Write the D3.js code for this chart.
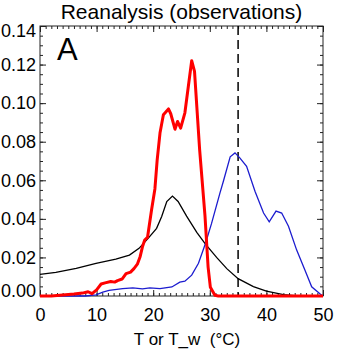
<!DOCTYPE html>
<html>
<head>
<meta charset="utf-8">
<script src="https://d3js.org/d3.v7.min.js"></script>
<style>
body { margin: 0; background: #fff; }
text { font-family: "Liberation Sans", Arial, Helvetica, sans-serif; fill: #000; }
</style>
</head>
<body>
<script type="text/javascript">

/* distributions, temperature in deg C vs probability density */

var redT = [0, 2, 4, 6, 7.5, 8.5, 9.2, 10, 10.8, 11.5, 12.5, 13.2, 13.7, 14.5, 15.2, 16, 16.6, 17.2, 17.7, 18.1, 18.5, 19,
            19.7, 20.3, 20.7, 21.2, 21.8, 22.7, 23.1, 23.85, 24.3, 24.85, 25.6, 26.2, 26.8, 27.3, 27.7, 28.2, 29.15, 29.7,
            30.1, 30.9, 31.5, 40, 50];
var redP = [0, 0, 0.0005, 0.0010, 0.0015, 0.0022, 0.0012, 0.0032, 0.0062, 0.0068, 0.0075, 0.0072, 0.0080, 0.0088, 0.0116,
            0.0124, 0.0142, 0.0165, 0.0205, 0.0255, 0.0290, 0.0305, 0.0445, 0.0555, 0.0705, 0.0845, 0.0940, 0.0970, 0.0945,
            0.0865, 0.0905, 0.0870, 0.0950, 0.1085, 0.1220, 0.1165, 0.0985, 0.0760, 0.0415, 0.0150, 0.0045, 0.0004, 0, 0, 0];

var blackT = [0, 2.8, 6.4, 9.9, 13.4, 15.8, 17.5, 19.1, 20.6, 21.5, 22.4, 23.4, 24.4, 25.9, 27.7, 29.2, 31.2, 33, 35, 37.7,
              40, 43, 45, 50];
var blackP = [0.0112, 0.0122, 0.0143, 0.0169, 0.0191, 0.0212, 0.0247, 0.0299, 0.0351, 0.0412, 0.0490, 0.0518, 0.0490,
              0.0414, 0.0330, 0.0270, 0.0200, 0.0142, 0.0090, 0.0049, 0.0025, 0.0007, 0.0002, 0];

var blueT = [0, 8, 9.9, 11.1, 12.2, 14.6, 16.4, 18.1, 19.4, 21.2, 23.3, 24.7, 25.6, 26.8, 28, 29.2, 30.3, 31.8, 32.4, 33.6,
             34.45, 35.3, 36.5, 38, 39.5, 40.5, 41.7, 42.7, 43.9, 45.35, 46.8, 48, 49.5, 50];
var blueP = [0, 0, 0.0006, 0.0020, 0.0029, 0.0038, 0.0042, 0.0037, 0.0042, 0.0038, 0.0047, 0.0072, 0.0077, 0.0108, 0.0170,
             0.0270, 0.0375, 0.0535, 0.0595, 0.0722, 0.0742, 0.0716, 0.0672, 0.0542, 0.0430, 0.0385, 0.0440, 0.0430,
             0.0362, 0.0238, 0.0135, 0.0048, 0.0010, 0];

var thresholdT = 35;

var xTicks = [0, 10, 20, 30, 40, 50];
var yTicks = [0.00, 0.02, 0.04, 0.06, 0.08, 0.10, 0.12, 0.14];

/* layout */
var width = 341, height = 351;
var plotLeft = 40, plotRight = 323, plotTop = 26, plotBottom = 296;

var svg = d3.select("body").append("svg")
  .attr("width", width)
  .attr("height", height);

var x = d3.scaleLinear().domain([0, 50]).range([plotLeft, plotRight]);
var y = d3.scaleLinear().domain([0, 0.14]).range([plotBottom, plotTop]);

/* ticks point inward on all four sides */
function addAxis(axis, tx, ty, labels) {
  var g = svg.append("g")
    .attr("transform", "translate(" + tx + "," + ty + ")")
    .call(axis);
  g.select(".domain").remove();
  g.selectAll("line").attr("stroke", "#222").attr("stroke-width", 1);
  if (!labels) g.selectAll("text").remove();
  return g;
}

var xMinor = d3.range(0, 51, 1);
var yMinor = d3.range(0, 0.1401, 0.005);

addAxis(d3.axisBottom(x).tickValues(xMinor).tickSize(-3).tickFormat(""), 0, plotBottom, false);
addAxis(d3.axisTop(x).tickValues(xMinor).tickSize(-3).tickFormat(""), 0, plotTop, false);
addAxis(d3.axisTop(x).tickValues(xTicks).tickSize(-6), 0, plotTop, false);
addAxis(d3.axisLeft(y).tickValues(yMinor).tickSize(-3).tickFormat(""), plotLeft, 0, false);
addAxis(d3.axisRight(y).tickValues(yMinor).tickSize(-3).tickFormat(""), plotRight, 0, false);
addAxis(d3.axisRight(y).tickValues(yTicks).tickSize(-6), plotRight, 0, false);

var xAxis = addAxis(d3.axisBottom(x).tickValues(xTicks).tickSize(-6).tickPadding(12)
  .tickFormat(d3.format("d")), 0, plotBottom, true);
var yAxis = addAxis(d3.axisLeft(y).tickValues(yTicks).tickSize(-6).tickPadding(4)
  .tickFormat(d3.format(".2f")), plotLeft, 0, true);

svg.selectAll(".tick text")
  .attr("font-size", 18)
  .attr("font-family", "Liberation Sans, Arial, sans-serif");

/* end labels sit a little inside the frame */
yAxis.selectAll(".tick text")
  .attr("dy", function(d) {
    if (d === 0) return "0.04em";
    if (d === 0.14) return "0.6em";
    return "0.32em";
  });

/* frame */
svg.append("rect")
  .attr("x", plotLeft)
  .attr("y", plotTop)
  .attr("width", plotRight - plotLeft)
  .attr("height", plotBottom - plotTop)
  .attr("fill", "none")
  .attr("stroke", "#222")
  .attr("stroke-width", 1);

/* 35 C threshold */
svg.append("line")
  .attr("x1", x(thresholdT))
  .attr("x2", x(thresholdT))
  .attr("y1", y(0.14))
  .attr("y2", y(0))
  .attr("stroke", "#000")
  .attr("stroke-width", 1.5)
  .attr("stroke-dasharray", "9,5");

var line = d3.line()
  .x(function(d) { return x(d[0]); })
  .y(function(d) { return y(d[1]); });

svg.append("path")
  .datum(d3.zip(blackT, blackP))
  .attr("d", line)
  .attr("fill", "none")
  .attr("stroke", "#000")
  .attr("stroke-width", 1.3);

svg.append("path")
  .datum(d3.zip(blueT, blueP))
  .attr("d", line)
  .attr("fill", "none")
  .attr("stroke", "#1c1ccf")
  .attr("stroke-width", 1.3);

svg.append("path")
  .datum(d3.zip(redT, redP))
  .attr("d", line)
  .attr("fill", "none")
  .attr("stroke", "#ff0000")
  .attr("stroke-width", 3)
  .attr("stroke-linejoin", "round");

/* titles */
svg.append("text")
  .attr("x", (plotLeft + plotRight) / 2)
  .attr("y", 19)
  .attr("text-anchor", "middle")
  .attr("font-size", 21)
  .text("Reanalysis (observations)");

svg.append("text")
  .attr("x", 57)
  .attr("y", 60)
  .attr("font-size", 31)
  .text("A");

svg.append("text")
  .attr("x", 187)
  .attr("y", 345)
  .attr("text-anchor", "middle")
  .attr("font-size", 17)
  .attr("xml:space", "preserve")
  .style("white-space", "pre")
  .text("T or T_w  (\u00b0C)");

</script>
</body>
</html>
